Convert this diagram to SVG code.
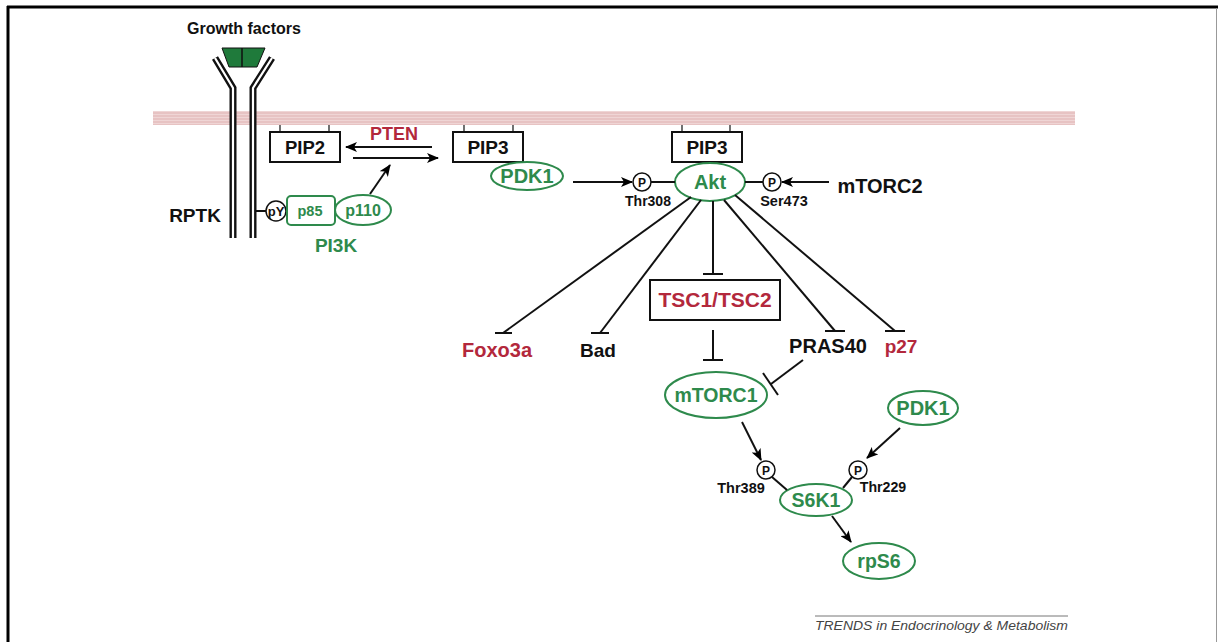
<svg xmlns="http://www.w3.org/2000/svg" width="1218" height="642" viewBox="0 0 1218 642">
<defs>
<pattern id="mem" x="0" y="112" width="6" height="3" patternUnits="userSpaceOnUse">
<rect width="6" height="3" fill="#e7c3c3"/>
<rect y="2" width="6" height="1" fill="#efd5d5"/>
</pattern>
<marker id="ah" viewBox="0 0 12 10" refX="11" refY="5" markerWidth="12" markerHeight="10" markerUnits="userSpaceOnUse" orient="auto">
<path d="M0,0 L12,5 L0,10 L3,5 z" fill="#000"/>
</marker>
<style>
.t{font-family:"Liberation Sans",Arial,sans-serif;font-weight:bold;text-anchor:middle}
.blk{fill:#111}
.grn{fill:#2e8a4c}
.red{fill:#b3283c}
.gs{fill:#fff;stroke:#2e8a4c;stroke-width:2}
.box{fill:#fff;stroke:#111;stroke-width:2}
.pc{fill:#fff;stroke:#111;stroke-width:1.5}
.ln{stroke:#111;stroke-width:2;fill:none}
.tick{stroke:#111;stroke-width:1.2}
.bar{fill:none;stroke:#111;stroke-width:7}
.barin{fill:none;stroke:#fff;stroke-width:2.2}
</style>
</defs>
<rect width="1218" height="642" fill="#fff"/>
<!-- frame -->
<line x1="7" y1="7" x2="1218" y2="7" stroke="#000" stroke-width="3"/>
<line x1="8" y1="6" x2="8" y2="642" stroke="#000" stroke-width="3"/>
<line x1="1216.5" y1="8" x2="1216.5" y2="642" stroke="#999" stroke-width="1"/>

<!-- membrane -->
<g id="membrane">
<rect x="153" y="111" width="922" height="14" fill="url(#mem)"/>
</g>

<!-- receptor -->
<g id="rptk">
<path class="bar" d="M215,58 L233,88 L233,238"/>
<path class="barin" d="M215,58 L233,88 L233,238"/>
<path class="bar" d="M272,58 L253,88 L253,238"/>
<path class="barin" d="M272,58 L253,88 L253,238"/>
<text class="t blk" x="195" y="222" font-size="19">RPTK</text>
</g>
<g id="growth-factors">
<path d="M222,48 L265,48 L257,67 L229,67 Z" fill="#1f7a3b" stroke="#111" stroke-width="1"/>
<line x1="242" y1="48" x2="242" y2="67" stroke="#111" stroke-width="1.5"/>
<text class="t blk" x="244" y="34" font-size="16">Growth factors</text>
</g>

<!-- PIP2 -->
<g id="pip2">
<line class="tick" x1="280" y1="125" x2="280" y2="132"/>
<line class="tick" x1="329" y1="125" x2="329" y2="132"/>
<rect class="box" x="270" y="132" width="70" height="30"/>
<text class="t blk" x="305" y="154" font-size="18.5">PIP2</text>
</g>
<g id="pten">
<text class="t red" x="394" y="140" font-size="18">PTEN</text>
</g>
<g id="pip3a">
<line class="tick" x1="464" y1="125" x2="464" y2="132"/>
<line class="tick" x1="513" y1="125" x2="513" y2="132"/>
<rect class="box" x="453" y="132" width="70" height="30"/>
<text class="t blk" x="488" y="154" font-size="19">PIP3</text>
</g>
<g id="pdk1a">
<ellipse class="gs" cx="527" cy="176" rx="36" ry="14"/>
<text class="t grn" x="527" y="183" font-size="20">PDK1</text>
</g>
<g id="pip3b">
<line class="tick" x1="682" y1="125" x2="682" y2="132"/>
<line class="tick" x1="730" y1="125" x2="730" y2="132"/>
<rect class="box" x="672" y="132" width="70" height="30"/>
<text class="t blk" x="707" y="154" font-size="19">PIP3</text>
</g>

<!-- PI3K -->
<g id="pi3k">
<circle class="pc" cx="276" cy="211" r="10"/>
<text class="t blk" x="276" y="216" font-size="13">pY</text>
<rect class="gs" x="287" y="196" width="48" height="29" rx="4"/>
<text class="t grn" x="310" y="216" font-size="14.5">p85</text>
<ellipse class="gs" cx="363" cy="210" rx="28" ry="15"/>
<text class="t grn" x="363" y="216" font-size="16">p110</text>
<text class="t grn" x="336" y="252" font-size="19">PI3K</text>
</g>

<!-- Akt -->
<g id="akt">
<ellipse class="gs" cx="710" cy="182" rx="35" ry="19"/>
<text class="t grn" x="710" y="189" font-size="20">Akt</text>
</g>
<g id="p-thr308">
<circle class="pc" cx="642" cy="182" r="9"/>
<text class="t blk" x="642" y="187" font-size="12" font-weight="normal">P</text>
<text class="t blk" x="648" y="206" font-size="14">Thr308</text>
</g>
<g id="p-ser473">
<circle class="pc" cx="772" cy="182" r="9"/>
<text class="t blk" x="772" y="187" font-size="12" font-weight="normal">P</text>
<text class="t blk" x="784" y="206" font-size="14.5">Ser473</text>
</g>
<g id="mtorc2">
<text class="t blk" x="880" y="193" font-size="20">mTORC2</text>
</g>

<g id="tsc">
<rect class="box" x="650" y="280" width="130" height="40"/>
<text class="t red" x="715" y="307" font-size="21">TSC1/TSC2</text>
</g>
<g id="foxo3a"><text class="t red" x="497" y="357" font-size="20">Foxo3a</text></g>
<g id="bad"><text class="t blk" x="598" y="357" font-size="19">Bad</text></g>
<g id="pras40"><text class="t blk" x="828" y="353" font-size="20">PRAS40</text></g>
<g id="p27"><text class="t red" x="901" y="353" font-size="19">p27</text></g>

<g id="mtorc1">
<ellipse class="gs" cx="716" cy="395" rx="51" ry="23"/>
<text class="t grn" x="716" y="402" font-size="19.5">mTORC1</text>
</g>
<g id="pdk1b">
<ellipse class="gs" cx="923" cy="408" rx="35" ry="17"/>
<text class="t grn" x="923" y="415" font-size="20">PDK1</text>
</g>
<g id="p-thr389">
<circle class="pc" cx="766" cy="470" r="9"/>
<text class="t blk" x="766" y="475" font-size="12" font-weight="normal">P</text>
<text class="t blk" x="741" y="493" font-size="14.5">Thr389</text>
</g>
<g id="p-thr229">
<circle class="pc" cx="858" cy="470" r="9"/>
<text class="t blk" x="858" y="475" font-size="12" font-weight="normal">P</text>
<text class="t blk" x="883" y="492" font-size="14.2">Thr229</text>
</g>
<g id="s6k1">
<ellipse class="gs" cx="816" cy="500" rx="36" ry="16"/>
<text class="t grn" x="816" y="507" font-size="19.5">S6K1</text>
</g>
<g id="rps6">
<ellipse class="gs" cx="879" cy="561" rx="36" ry="18"/>
<text class="t grn" x="879" y="568" font-size="19.5">rpS6</text>
</g>

<!-- connectors -->
<g id="connectors">
<line class="ln" x1="256" y1="211" x2="266" y2="211" stroke-width="1.5"/>
<line class="ln" x1="432" y1="147" x2="346" y2="147" marker-end="url(#ah)"/>
<line class="ln" x1="353" y1="158" x2="438" y2="158" marker-end="url(#ah)"/>
<line class="ln" x1="370" y1="194" x2="390" y2="165" marker-end="url(#ah)"/>
<line class="ln" x1="573" y1="182" x2="632" y2="182" marker-end="url(#ah)"/>
<line class="ln" x1="651" y1="182" x2="675" y2="182"/>
<line class="ln" x1="745" y1="182" x2="763" y2="182"/>
<line class="ln" x1="829" y1="182" x2="782" y2="182" marker-end="url(#ah)"/>
<!-- Akt inhibitions -->
<line class="ln" x1="691" y1="197" x2="503" y2="333"/>
<line class="ln" x1="495" y1="333" x2="512" y2="333"/>
<line class="ln" x1="701" y1="200" x2="600" y2="333"/>
<line class="ln" x1="591" y1="333" x2="609" y2="333"/>
<line class="ln" x1="713" y1="201" x2="713" y2="274"/>
<line class="ln" x1="703" y1="274" x2="723" y2="274"/>
<line class="ln" x1="724" y1="200" x2="835" y2="331"/>
<line class="ln" x1="825" y1="331" x2="845" y2="331"/>
<line class="ln" x1="735" y1="195" x2="895" y2="331"/>
<line class="ln" x1="885" y1="331" x2="905" y2="331"/>
<line class="ln" x1="713" y1="330" x2="713" y2="360"/>
<line class="ln" x1="703" y1="360" x2="723" y2="360"/>
<line class="ln" x1="803" y1="360" x2="771" y2="384"/>
<line class="ln" x1="763" y1="373" x2="778" y2="395"/>
<!-- S6K1 -->
<line class="ln" x1="742" y1="422" x2="761" y2="460" marker-end="url(#ah)"/>
<line class="ln" x1="900" y1="428" x2="867" y2="458" marker-end="url(#ah)"/>
<line class="ln" x1="772" y1="477" x2="787" y2="490"/>
<line class="ln" x1="852" y1="477" x2="843" y2="488"/>
<line class="ln" x1="832" y1="516" x2="851" y2="542" marker-end="url(#ah)"/>
</g>

<g id="footer">
<line x1="815" y1="616" x2="1068" y2="616" stroke="#777" stroke-width="1"/>
<text x="815" y="630" font-family="'Liberation Sans',Arial,sans-serif" font-style="italic" font-size="13.5" fill="#444" textLength="253" lengthAdjust="spacingAndGlyphs">TRENDS in Endocrinology &amp; Metabolism</text>
</g>
</svg>
